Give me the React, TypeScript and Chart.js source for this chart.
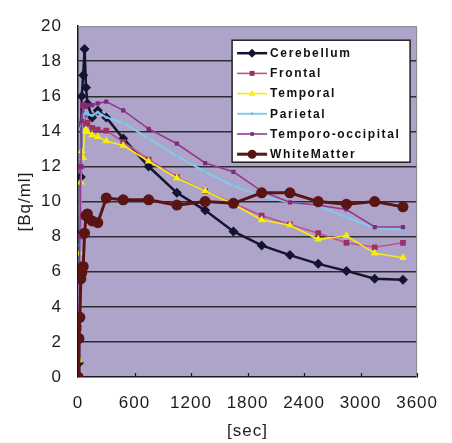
import React, { useEffect, useRef } from "react";
import { Chart, registerables } from "chart.js";

Chart.register(...registerables);

// Frame mid-times [sec]
const seconds = [0, 10, 20, 30, 40, 55, 70, 85, 100, 150, 210, 300, 480, 750, 1050, 1350, 1650, 1950, 2250, 2550, 2850, 3150, 3450];

// Regional activity concentrations [Bq/ml]
const cerebellum = [0, 0.8, 8.2, 11.4, 16.0, 17.2, 18.7, 16.5, 15.6, 14.8, 15.2, 14.8, 13.6, 12.0, 10.5, 9.5, 8.3, 7.5, 6.95, 6.45, 6.05, 5.6, 5.55];
const frontal = [0, 2.8, 8.0, 12.0, 14.4, 15.5, 15.0, 14.4, 14.5, 14.2, 14.1, 14.05, 13.4, 12.4, 11.4, 10.6, 9.9, 9.2, 8.7, 8.2, 7.65, 7.4, 7.65];
const temporal = [0, 0.95, 7.05, 11.1, 12.9, 12.5, 14.0, 14.1, 14.0, 13.8, 13.7, 13.45, 13.2, 12.3, 11.35, 10.6, 9.85, 8.95, 8.65, 7.85, 8.05, 7.05, 6.8];
const parietal = [0, 2.0, 7.5, 11.0, 14.3, 14.9, 15.0, 15.1, 15.0, 14.9, 15.1, 14.8, 14.5, 13.6, 12.6, 11.7, 10.9, 10.3, 9.95, 9.75, 9.1, 8.5, 8.4];
const temporoOccipital = [0, 2.6, 8.0, 12.0, 14.6, 15.5, 15.5, 15.4, 15.5, 15.5, 15.6, 15.7, 15.2, 14.15, 13.3, 12.2, 11.7, 10.6, 9.95, 9.8, 9.55, 8.55, 8.55];
const whiteMatter = [0, 2.2, 3.4, 5.6, 5.95, 6.3, 8.2, 9.2, 9.3, 8.9, 8.8, 10.2, 10.1, 10.1, 9.8, 10.0, 9.9, 10.5, 10.5, 10.0, 9.85, 10.0, 9.7];

const seriesNames = ["Cerebellum", "Frontal", "Temporal", "Parietal", "Temporo-occipital", "WhiteMatter"];

const xTickValues = [0, 600, 1200, 1800, 2400, 3000, 3600];
const yTickValues = [0, 2, 4, 6, 8, 10, 12, 14, 16, 18, 20];

const PLOT_BG = "rgb(174,164,202)";
const FONT_FAMILY = "'Liberation Sans', Arial, sans-serif";

type SeriesStyle = {
  line: string;
  point: string;
  width: number;
  style: string;
  radius: number;
  legendRadius: number;
};

const styles: SeriesStyle[] = [
  { line: "#14142e", point: "#14142e", width: 2.5, style: "rectRot", radius: 5, legendRadius: 4.5 },
  { line: "#c2508e", point: "#9c2f66", width: 1.6, style: "rect", radius: 4, legendRadius: 3.5 },
  { line: "#f4ee10", point: "#f8f000", width: 1.6, style: "triangle", radius: 4.5, legendRadius: 3.5 },
  { line: "#86c8ec", point: "#6cc0ec", width: 2, style: "rect", radius: 2, legendRadius: 1.8 },
  { line: "#97388f", point: "#7e2c7a", width: 1.6, style: "rect", radius: 3, legendRadius: 2.6 },
  { line: "#5a1414", point: "#5a1414", width: 3, style: "circle", radius: 5.5, legendRadius: 4.5 },
];

const seriesValues = [cerebellum, frontal, temporal, parietal, temporoOccipital, whiteMatter];

function drawMarker(ctx: CanvasRenderingContext2D, style: string, x: number, y: number, r: number, color: string) {
  ctx.save();
  ctx.fillStyle = color;
  ctx.beginPath();
  if (style === "rectRot") {
    ctx.moveTo(x, y - r);
    ctx.lineTo(x + r, y);
    ctx.lineTo(x, y + r);
    ctx.lineTo(x - r, y);
    ctx.closePath();
  } else if (style === "rect") {
    const s = r * Math.SQRT1_2;
    ctx.rect(x - s, y - s, 2 * s, 2 * s);
  } else if (style === "triangle") {
    ctx.moveTo(x, y - r);
    ctx.lineTo(x + r * 0.9, y + r * 0.6);
    ctx.lineTo(x - r * 0.9, y + r * 0.6);
    ctx.closePath();
  } else {
    ctx.arc(x, y, r, 0, Math.PI * 2);
  }
  ctx.fill();
  ctx.restore();
}

// Lavender plot area and wider letter spacing for all axis text
const plotBackground = {
  id: "plotBackground",
  beforeDraw(chart: any) {
    const { ctx, chartArea } = chart;
    ctx.save();
    ctx.fillStyle = "#ffffff";
    ctx.fillRect(0, 0, chart.width, chart.height);
    ctx.fillStyle = PLOT_BG;
    ctx.fillRect(chartArea.left, chartArea.top, chartArea.right - chartArea.left, chartArea.bottom - chartArea.top);
    ctx.restore();
    (ctx as any).letterSpacing = "1px";
  },
};

// Grey frame on the open sides and short inward ticks on the time axis
const frameAndTicks = {
  id: "frameAndTicks",
  beforeDatasetsDraw(chart: any) {
    const { ctx, chartArea, scales } = chart;
    ctx.save();
    ctx.strokeStyle = "#8c8c8c";
    ctx.lineWidth = 1;
    ctx.beginPath();
    ctx.moveTo(chartArea.left, chartArea.top + 0.5);
    ctx.lineTo(chartArea.right - 0.5, chartArea.top + 0.5);
    ctx.lineTo(chartArea.right - 0.5, chartArea.bottom);
    ctx.stroke();
    ctx.strokeStyle = "#1a1a1a";
    ctx.lineWidth = 1.2;
    ctx.beginPath();
    for (const v of xTickValues) {
      const px = Math.round(scales.x.getPixelForValue(v)) + 0.5;
      ctx.moveTo(px, chartArea.bottom);
      ctx.lineTo(px, chartArea.bottom - 4);
    }
    ctx.stroke();
    ctx.restore();
  },
};

// Boxed legend in the upper right of the plot
const boxedLegend = {
  id: "boxedLegend",
  afterDraw(chart: any) {
    const { ctx, chartArea } = chart;
    const boxRight = chartArea.right - 7;
    const boxLeft = boxRight - 178;
    const boxTop = chartArea.top + 14;
    const boxHeight = 122;
    ctx.save();
    (ctx as any).letterSpacing = "0px";
    ctx.fillStyle = "#ffffff";
    ctx.fillRect(boxLeft, boxTop, boxRight - boxLeft, boxHeight);
    ctx.strokeStyle = "#222222";
    ctx.lineWidth = 1.5;
    ctx.strokeRect(boxLeft, boxTop, boxRight - boxLeft, boxHeight);

    chart.data.datasets.forEach((ds: any, i: number) => {
      const st = styles[i];
      const y = boxTop + 13 + i * 20.2;
      const x1 = boxLeft + 5;
      const x2 = boxLeft + 35;
      ctx.strokeStyle = st.line;
      ctx.lineWidth = st.width;
      ctx.beginPath();
      ctx.moveTo(x1, y);
      ctx.lineTo(x2, y);
      ctx.stroke();
      drawMarker(ctx, st.style, (x1 + x2) / 2, y, st.legendRadius, st.point);
      (ctx as any).letterSpacing = "1.6px";
      ctx.fillStyle = "#111111";
      ctx.font = `bold 12px ${FONT_FAMILY}`;
      ctx.textAlign = "left";
      ctx.textBaseline = "middle";
      ctx.fillText(ds.label, x2 + 3, y + 0.5);
    });
    ctx.restore();
  },
};

export default function App() {
  const canvasRef = useRef<HTMLCanvasElement | null>(null);

  useEffect(() => {
    const canvas = canvasRef.current;
    if (!canvas) return;

    const datasets = seriesNames.map((name, i) => {
      const st = styles[i];
      return {
        label: name,
        data: seconds.map((t, k) => ({ x: t, y: seriesValues[i][k] })),
        borderColor: st.line,
        backgroundColor: st.point,
        borderWidth: st.width,
        pointStyle: st.style,
        pointRadius: st.radius,
        pointBackgroundColor: st.point,
        pointBorderColor: st.point,
        pointBorderWidth: 0,
        tension: 0,
        fill: false,
        order: seriesNames.length - i,
      };
    });

    const tickFont = { family: FONT_FAMILY, size: 17 };
    const plainNumber = (v: any) => String(v);

    const chart = new Chart(canvas, {
      type: "line",
      data: { datasets },
      options: {
        animation: false,
        responsive: false,
        maintainAspectRatio: false,
        layout: { padding: { top: 17, right: 24, bottom: 0, left: 0 } },
        plugins: {
          legend: { display: false },
          tooltip: { enabled: false },
        },
        scales: {
          x: {
            type: "linear",
            min: 0,
            max: 3600,
            afterBuildTicks: (scale: any) => {
              scale.ticks = xTickValues.map((v) => ({ value: v }));
            },
            afterFit: (scale: any) => {
              scale.height = 66;
            },
            grid: { display: false, drawTicks: false },
            border: { display: true, color: "#1a1a1a", width: 1.5 },
            ticks: {
              padding: 16,
              font: tickFont,
              color: "#1c1c1c",
              maxRotation: 0,
              autoSkip: false,
              callback: plainNumber,
            },
            title: {
              display: true,
              text: "[sec]",
              font: tickFont,
              color: "#1c1c1c",
              padding: { top: 0, bottom: 1 },
            },
          },
          y: {
            type: "linear",
            min: 0,
            max: 20,
            afterBuildTicks: (scale: any) => {
              scale.ticks = yTickValues.map((v) => ({ value: v }));
            },
            afterFit: (scale: any) => {
              scale.width = 78;
            },
            grid: {
              drawTicks: false,
              lineWidth: 1.6,
              color: (c: any) =>
                c.tick && (c.tick.value === 0 || c.tick.value === 20) ? "rgba(0,0,0,0)" : "#2c2c30",
            },
            border: { display: true, color: "#1a1a1a", width: 1.5 },
            ticks: { padding: 16, font: tickFont, color: "#1c1c1c", callback: plainNumber },
            title: {
              display: true,
              text: "[Bq/ml]",
              font: tickFont,
              color: "#1c1c1c",
              padding: { top: 15, bottom: 0 },
            },
          },
        },
      },
      plugins: [plotBackground, frameAndTicks, boxedLegend],
    } as any);

    return () => {
      chart.destroy();
    };
  }, []);

  return (
    <div style={{ position: "absolute", left: 0, top: 0, width: 452, height: 443, background: "#ffffff" }}>
      <canvas ref={canvasRef} width={452} height={443} style={{ display: "block" }} />
    </div>
  );
}
